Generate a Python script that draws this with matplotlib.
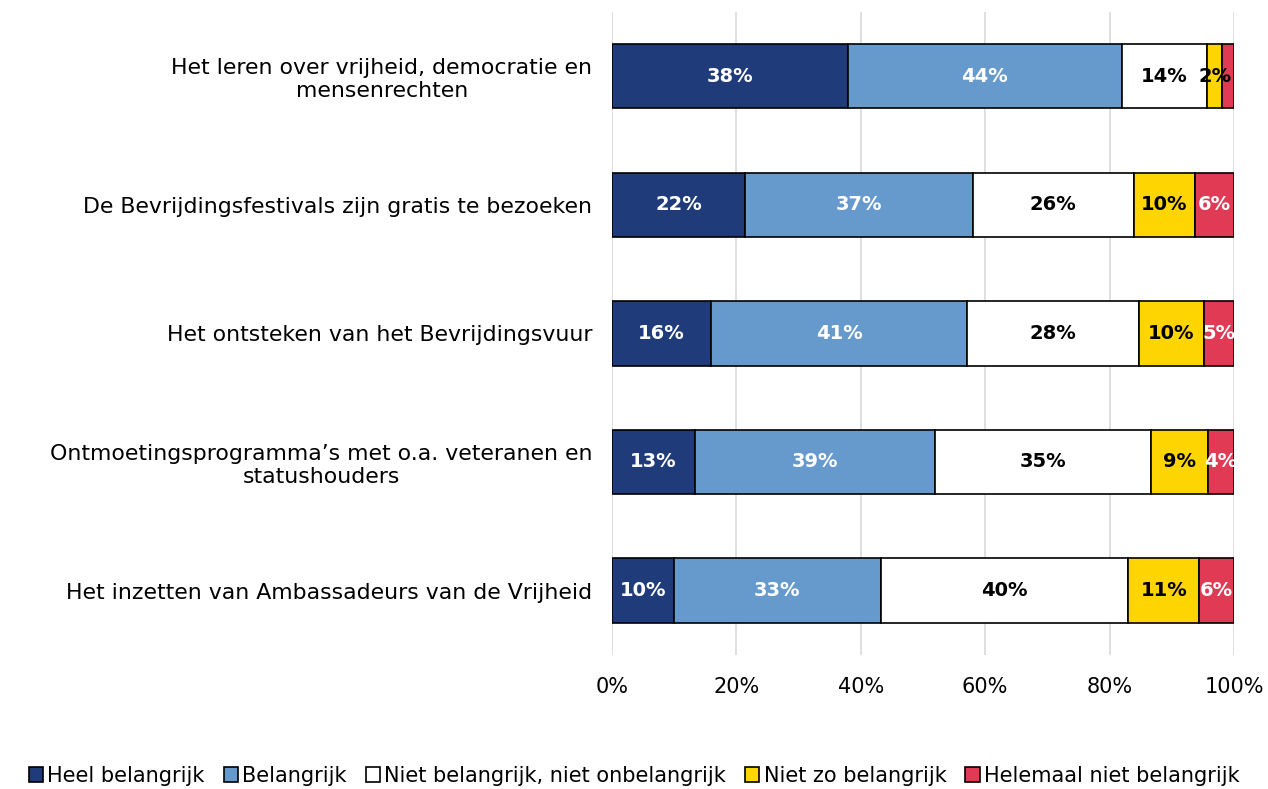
import matplotlib.pyplot as plt
import numpy as np

plt.rcParams['font.family'] = ['DejaVu Sans']

categories = ['Het leren over vrijheid, democratie en\nmensenrechten',
              'De Bevrijdingsfestivals zijn gratis te bezoeken',
              'Het ontsteken van het Bevrijdingsvuur',
              'Ontmoetingsprogramma\u2019s met o.a. veteranen en\nstatushouders',
              'Het inzetten van Ambassadeurs van de Vrijheid']
series_names = ['Heel belangrijk', 'Belangrijk', 'Niet belangrijk, niet onbelangrijk',
                'Niet zo belangrijk', 'Helemaal niet belangrijk']
heel = [37.9, 21.4, 15.9, 13.3, 10.0]
belangrijk = [44.1, 36.6, 41.2, 38.6, 33.2]
neutraal = [13.7, 25.9, 27.6, 34.8, 39.8]
nietzo = [2.4, 9.8, 10.5, 9.1, 11.4]
helemaal = [1.9, 6.3, 4.8, 4.2, 5.6]
labels = [['38%', '22%', '16%', '13%', '10%'],
          ['44%', '37%', '41%', '39%', '33%'],
          ['14%', '26%', '28%', '35%', '40%'],
          ['2%', '10%', '10%', '9%', '11%'],
          ['2%', '6%', '5%', '4%', '6%']]

colors = ['#203B7A', '#6699CC', '#FFFFFF', '#FFD500', '#E03A55']
text_colors = ['white', 'white', 'black', 'black', 'white']

fig = plt.figure(figsize=(12.68, 7.89), dpi=100)
ax = fig.add_axes([0.4826, 0.170, 0.4906, 0.815])

y = np.arange(len(categories))
left = np.zeros(len(categories))
all_series = [heel, belangrijk, neutraal, nietzo, helemaal]
for i, vals in enumerate(all_series):
    vals = np.array(vals)
    ax.barh(y, vals, left=left, height=0.5, color=colors[i], edgecolor='black',
            linewidth=1.2, label=series_names[i], zorder=3)
    for j in range(len(y)):
        if i == 4 and j == 0:
            continue  # overlapping tiny label
        ax.text(left[j] + vals[j] / 2, y[j], labels[i][j], ha='center', va='center',
                color=text_colors[i], fontsize=14, fontweight='bold', zorder=4)
    left += vals

ax.set_xlim(0, 100)
ax.set_ylim(len(categories) - 0.5, -0.5)
ax.set_xticks(np.arange(0, 101, 20))
ax.set_xticklabels([f'{t}%' for t in range(0, 101, 20)], fontsize=15)
ax.set_yticks(y)
ax.set_yticklabels(categories, fontsize=15.8, ha='right', ma='center')
ax.grid(axis='x', color='#D9D9D9', linewidth=1.2, zorder=0)
for s in ax.spines.values():
    s.set_visible(False)
ax.tick_params(axis='both', length=0)
ax.tick_params(axis='x', pad=16)
ax.tick_params(axis='y', pad=14)

fig.legend(loc='lower center', bbox_to_anchor=(0.5, -0.02), ncol=5, frameon=False,
           fontsize=15, handlelength=0.7, handleheight=0.7, handletextpad=0.2,
           columnspacing=0.9)

plt.savefig('out.png', dpi=100)
plt.close()
